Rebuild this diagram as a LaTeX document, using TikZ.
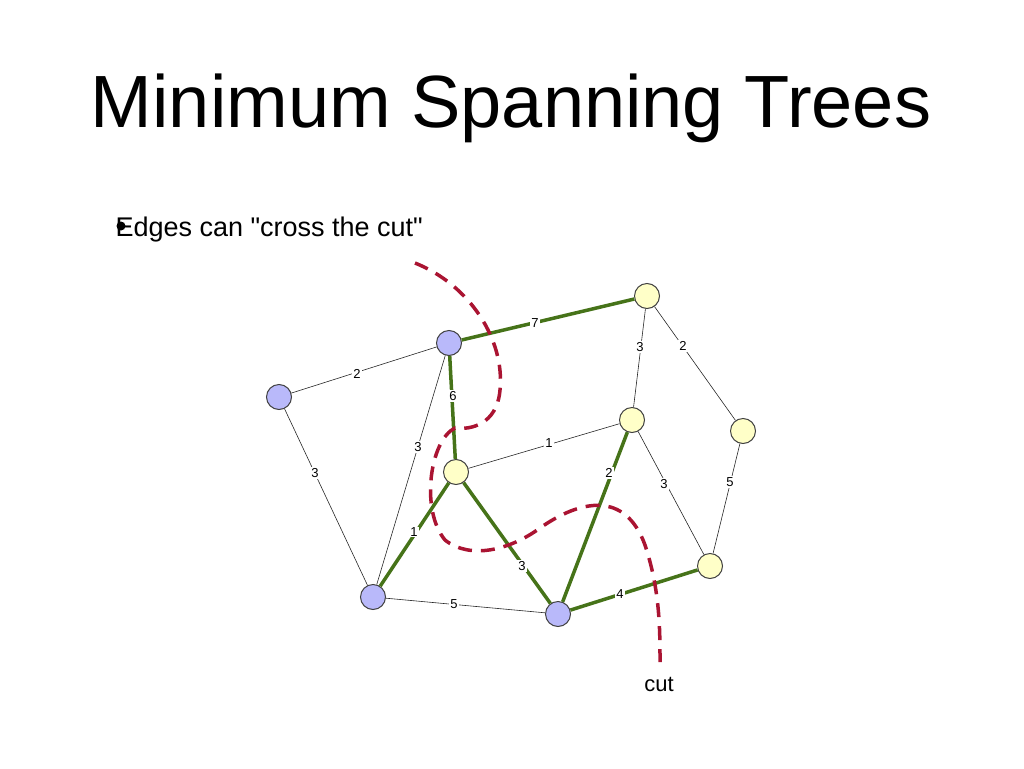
\documentclass[tikz,border=0pt]{standalone}
\usepackage{fontspec}
\setmainfont{Liberation Sans}
\usetikzlibrary{positioning}
\definecolor{nodeblue}{RGB}{185,185,250}
\definecolor{nodeyellow}{RGB}{255,255,200}
\definecolor{treegreen}{RGB}{70,115,25}
\definecolor{cutred}{RGB}{170,20,50}
\tikzstyle{bnode} = [circle, minimum size=25pt, inner sep=0pt, draw=black!75, line width=1pt, fill=nodeblue]
\tikzstyle{ynode} = [circle, minimum size=25pt, inner sep=0pt, draw=black!75, line width=1pt, fill=nodeyellow]
\tikzstyle{edge} = [draw=black!85, line width=0.6pt]
\tikzstyle{tree} = [draw=treegreen, line width=3.5pt]
\tikzstyle{wlabel} = [fill=white, inner sep=1pt, font=\fontsize{13}{13}\selectfont]

\begin{document}
\begin{tikzpicture}[x=1pt, y=-1pt]
\useasboundingbox (0,0) rectangle (1024,768);

  \node (title) at (511,108) {\fontsize{74}{74}\selectfont Minimum Spanning Trees};
  \fill (121,226) circle (4.5pt);
  \node[anchor=west] (point) at (112,230) {\fontsize{27}{27}\selectfont Edges can \textquotedbl cross the cut\textquotedbl};

  % left side of the cut
  \node[bnode] (a) at (449,343) {};
  \node[bnode] (b) at (279,397) {};
  \node[bnode] (c) at (373,597) {};
  \node[bnode] (d) at (558,614) {};
  % right side of the cut
  \node[ynode] (e) at (456,472) {};
  \node[ynode] (f) at (647,296) {};
  \node[ynode] (g) at (632,420) {};
  \node[ynode] (h) at (743,431) {};
  \node[ynode] (i) at (710,566) {};

  \draw[edge] (a) -- (b);
  \draw[edge] (b) -- (c);
  \draw[edge] (a) -- (c);
  \draw[edge] (e) -- (g);
  \draw[edge] (c) -- (d);
  \draw[edge] (g) -- (i);
  \draw[edge] (f) -- (g);
  \draw[edge] (f) -- (h);
  \draw[edge] (h) -- (i);
  \draw[tree] (a) -- (f);
  \draw[tree] (a) -- (e);
  \draw[tree] (e) -- (c);
  \draw[tree] (e) -- (d);
  \draw[tree] (g) -- (d);
  \draw[tree] (d) -- (i);

  \node[wlabel] (w1) at (535,323) {7};
  \node[wlabel] (w2) at (357,374) {2};
  \node[wlabel] (w3) at (453,396) {6};
  \node[wlabel] (w4) at (315,473) {3};
  \node[wlabel] (w5) at (418,447) {3};
  \node[wlabel] (w6) at (549,443) {1};
  \node[wlabel] (w7) at (414,532) {1};
  \node[wlabel] (w8) at (522,566) {3};
  \node[wlabel] (w9) at (454,604) {5};
  \node[wlabel] (w10) at (609,473) {2};
  \node[wlabel] (w11) at (664,484) {3};
  \node[wlabel] (w12) at (640,347) {3};
  \node[wlabel] (w13) at (683,346) {2};
  \node[wlabel] (w14) at (730,482) {5};
  \node[wlabel] (w15) at (620,594) {4};

  % the cut
  \coordinate (cuttop) at (415,263);
  \coordinate (cutend) at (660,662);
  \draw[cutred, line width=3.5pt, dash pattern=on 14pt off 9pt]
    (cuttop) .. controls (470,285) and (505,340) .. (500,390)
    .. controls (497,425) and (470,430) .. (455,428)
    .. controls (430,440) and (420,510) .. (445,540)
    .. controls (470,560) and (510,550) .. (540,528)
    .. controls (580,500) and (625,490) .. (645,545)
    .. controls (660,590) and (660,630) .. (cutend);
  \node (cutlabel) at (659,684) {\fontsize{22}{22}\selectfont cut};

\end{tikzpicture}
\end{document}
